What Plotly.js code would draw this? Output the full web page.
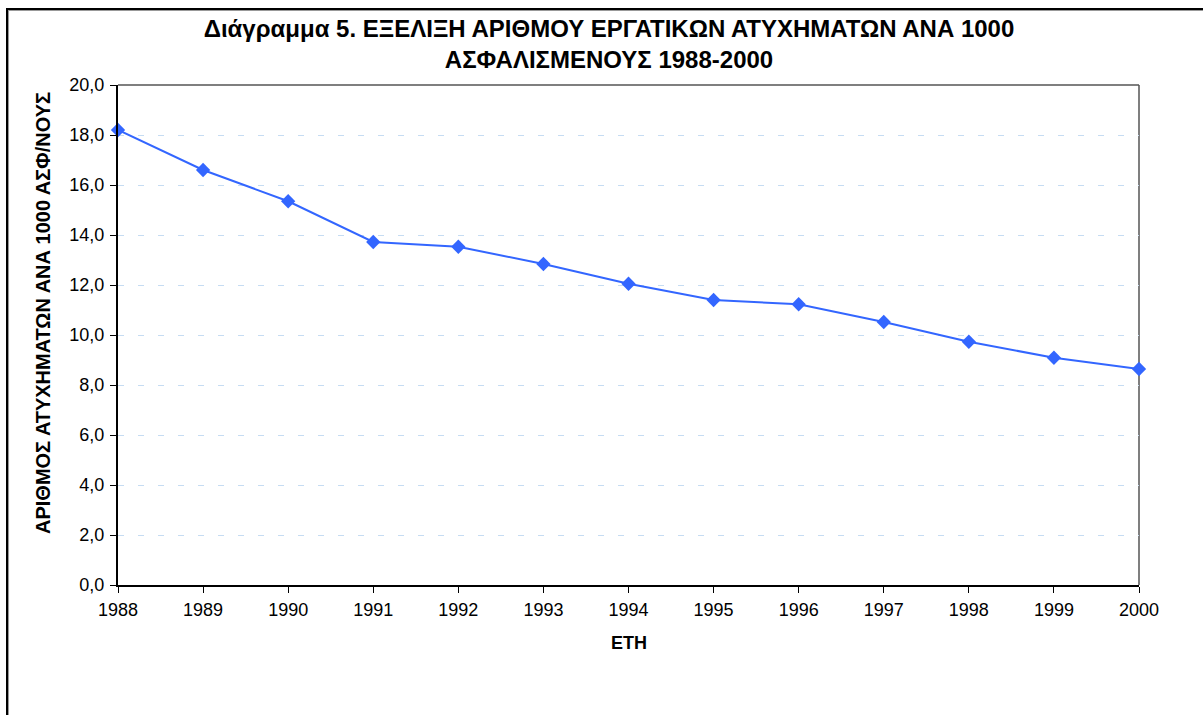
<!DOCTYPE html>
<html>
<head>
<meta charset="utf-8">
<script src="https://cdn.plot.ly/plotly-3.0.1.min.js"></script>
<style>
html,body{margin:0;padding:0;background:#fff;overflow:hidden;}
#frame{position:absolute;left:6px;top:8px;width:1300px;height:800px;border-top:2px solid #000;border-left:2px solid #000;box-shadow:inset 1px 1px 0 #999;pointer-events:none;z-index:5;}
#chart{position:absolute;left:0;top:0;width:1203px;height:715px;}
</style>
</head>
<body>
<div id="chart"></div>
<div id="frame"></div>
<script>
const years = [1988,1989,1990,1991,1992,1993,1994,1995,1996,1997,1998,1999,2000];
const rates = [18.2,16.6,15.35,13.72,13.53,12.84,12.05,11.4,11.23,10.52,9.73,9.09,8.64];
const yTicks = [0,2,4,6,8,10,12,14,16,18,20];

const font = "Liberation Sans, Arial, sans-serif";

const trace = {
  x: years, y: rates, type: 'scatter', mode: 'lines+markers',
  line: {color: '#3366FF', width: 2},
  marker: {symbol: 'diamond', size: 11, color: '#3366FF'},
  cliponaxis: false, hoverinfo: 'x+y'
};

const layout = {
  width: 1203, height: 715,
  margin: {l: 118, r: 64, t: 85, b: 130},
  paper_bgcolor: '#fff', plot_bgcolor: '#fff',
  separators: ',.',
  showlegend: false,
  font: {family: font, color: '#000', size: 18},
  title: {
    text: '<b>Διάγραμμα 5. ΕΞΕΛΙΞΗ ΑΡΙΘΜΟΥ ΕΡΓΑΤΙΚΩΝ ΑΤΥΧΗΜΑΤΩΝ ΑΝΑ 1000<br>ΑΣΦΑΛΙΣΜΕΝΟΥΣ 1988-2000</b>',
    font: {family: font, size: 24, color: '#000'},
    x: 609/1203, xref: 'container', xanchor: 'center',
    y: 1 - 37/715, yref: 'container', yanchor: 'middle'
  },
  xaxis: {
    range: [1988, 2000], tickvals: years, ticktext: years.map(String),
    showgrid: false, zeroline: false,
    showline: true, linecolor: '#000', linewidth: 2,
    ticks: 'outside', ticklen: 6, tickwidth: 1, tickcolor: '#000',
    ticklabelstandoff: 1,
    tickfont: {family: font, size: 18, color: '#000'},
    fixedrange: true
  },
  yaxis: {
    range: [0, 20], tickvals: yTicks, tickformat: '.1f',
    showgrid: true, gridcolor: '#c6dcf2', griddash: '6px,14px', gridwidth: 1,
    zeroline: false,
    showline: true, linecolor: '#000', linewidth: 2,
    ticks: 'outside', ticklen: 6, tickwidth: 1, tickcolor: '#000',
    ticklabelstandoff: 2,
    tickfont: {family: font, size: 18, color: '#000'},
    fixedrange: true
  },
  shapes: [
    {type: 'line', xref: 'paper', yref: 'paper', x0: 0, x1: 1, y0: 1, y1: 1, line: {color: '#555', width: 1.5}, layer: 'below'},
    {type: 'line', xref: 'paper', yref: 'paper', x0: 1, x1: 1, y0: 0, y1: 1, line: {color: '#555', width: 1.5}, layer: 'below'}
  ],
  annotations: [
    {text: '<b>ΑΡΙΘΜΟΣ ΑΤΥΧΗΜΑΤΩΝ ΑΝΑ 1000 ΑΣΦ/ΝΟΥΣ</b>', xref: 'paper', yref: 'paper',
     x: 0, xshift: -75, xanchor: 'center', y: 0.5, yanchor: 'middle', yshift: 22, textangle: -90, showarrow: false,
     font: {family: font, size: 20, color: '#000'}},
    {text: '<b>ΕΤΗ</b>', xref: 'paper', yref: 'paper', x: 0.5, xanchor: 'center', y: 0, yanchor: 'middle', yshift: -58,
     showarrow: false, font: {family: font, size: 18, color: '#000'}}
  ]
};

Plotly.newPlot('chart', [trace], layout, {displayModeBar: false, staticPlot: true});
</script>
</body>
</html>
